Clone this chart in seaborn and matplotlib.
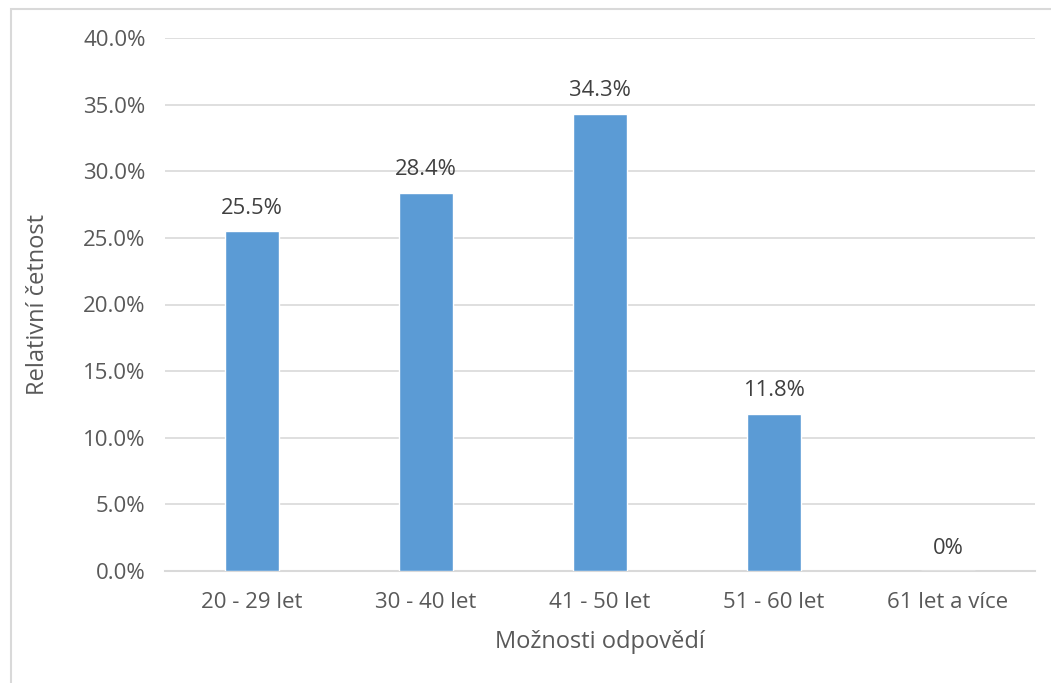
"""Relative frequency of answers by age group."""
import matplotlib.pyplot as plt
import pandas as pd
import seaborn as sns
from matplotlib.patches import Rectangle
from matplotlib.ticker import FuncFormatter

categories = ["20 - 29 let", "30 - 40 let", "41 - 50 let", "51 - 60 let", "61 let a více"]
values = [0.255, 0.284, 0.343, 0.118, 0.0]
value_labels = ["25.5%", "28.4%", "34.3%", "11.8%", "0%"]

BAR_COLOR = "#5B9BD5"
TEXT_COLOR = "#595959"
GRID_COLOR = "#D9D9D9"

sns.set_style("white")
plt.rcParams["font.family"] = ["Open Sans", "DejaVu Sans"]

df = pd.DataFrame({"kategorie": categories, "hodnota": values})

fig = plt.figure(figsize=(10.51, 6.83), dpi=100)
ax = fig.add_axes([165 / 1051, 1 - 571 / 683, 870 / 1051, 533 / 683])

sns.barplot(data=df, x="kategorie", y="hodnota", color=BAR_COLOR,
            saturation=1, width=0.316, ax=ax, zorder=3)

ax.set_ylim(0, 0.40)
ax.set_yticks([i * 0.05 for i in range(9)])
ax.yaxis.set_major_formatter(FuncFormatter(lambda v, _: f"{v * 100:.1f}%"))
ax.grid(axis="y", color=GRID_COLOR, linewidth=1.2, zorder=0)
ax.set_axisbelow(True)
for side in ["top", "right", "left"]:
    ax.spines[side].set_visible(False)
ax.spines["bottom"].set_color(GRID_COLOR)
ax.spines["bottom"].set_linewidth(1.5)
ax.tick_params(axis="both", length=0, labelsize=16, colors=TEXT_COLOR)
ax.tick_params(axis="y", pad=14)
ax.tick_params(axis="x", pad=15)

ax.set_xlabel("Možnosti odpovědí", fontsize=17, color=TEXT_COLOR, labelpad=12)
ax.set_ylabel("Relativní četnost", fontsize=17, color=TEXT_COLOR, labelpad=24)

for i, (v, lab) in enumerate(zip(values, value_labels)):
    ax.annotate(lab, (i, v), xytext=(0, 9), textcoords="offset points",
                ha="center", va="bottom", fontsize=15.8, color="#404040")

# outer chart frame
fig.patches.append(Rectangle((11 / 1051, -0.1), 1.2, 1 - 9 / 683 + 0.1,
                             transform=fig.transFigure, fill=False,
                             edgecolor=GRID_COLOR, linewidth=1.5))

fig.savefig("out.png", dpi=100)
